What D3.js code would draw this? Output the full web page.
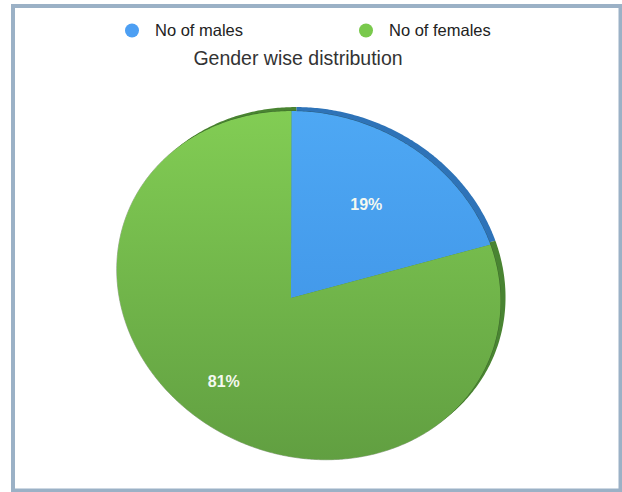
<!DOCTYPE html>
<html><head><meta charset="utf-8">
<script src="https://cdn.jsdelivr.net/npm/d3@7"></script>
<style>html,body{margin:0;padding:0;background:#fff;}svg{display:block;}</style>
</head><body>
<svg id="chart" width="622" height="492"></svg>
<script>
const categories = ["No of males", "No of females"];
const values = [19, 81];
const labels = ["19%", "81%"];
const title = "Gender wise distribution";

const topColors = [["#4ea8f4", "#3a8de2"], ["#82cd54", "#619f41"]];
const sideColors = ["#2d73b8", "#4a8430"];
const legendColors = ["#4d9ff3", "#79c94c"];

const svg = d3.select("#chart");
svg.append("rect").attr("x", 13).attr("y", 6).attr("width", 607.5).attr("height", 484.5)
  .attr("fill", "#fff").attr("stroke", "#9bb1c6").attr("stroke-width", 4);

// perspective projection of unit disk onto the page
const H = {a:163.0, b:23.42, c:291, d:-10.0, e:196.0, f:298, g:-0.0915, h:0.0815};
function project(u, v) {
  const w = H.g*u + H.h*v + 1;
  return [(H.a*u + H.b*v + H.c)/w, (H.d*u + H.e*v + H.f)/w];
}
const pie = d3.pie().sort(null).value(d => d)(values);

function slicePoints(p) {
  const pts = [project(0, 0)];
  const n = Math.max(4, Math.ceil((p.endAngle - p.startAngle) / 0.01));
  for (let i = 0; i <= n; i++) {
    const a = p.startAngle + (p.endAngle - p.startAngle) * i / n;
    pts.push(project(Math.sin(a), -Math.cos(a)));
  }
  return pts;
}
const line = d3.line().curve(d3.curveLinearClosed);

const defs = svg.append("defs");
topColors.forEach((c, i) => {
  const g = defs.append("linearGradient").attr("id", "g" + i)
    .attr("gradientUnits", "userSpaceOnUse").attr("x1", 0).attr("y1", 110).attr("x2", 0).attr("y2", 460);
  g.append("stop").attr("offset", 0).attr("stop-color", c[0]);
  g.append("stop").attr("offset", 1).attr("stop-color", c[1]);
});
const blur = defs.append("filter").attr("id", "soft").attr("x", "-10%").attr("y", "-10%").attr("width", "120%").attr("height", "120%");
blur.append("feGaussianBlur").attr("stdDeviation", 0.6);

// side (thickness) layer
const side = svg.append("g").attr("transform", "translate(5,-4)").attr("filter", "url(#soft)");
pie.forEach((p, i) => {
  side.append("path").attr("d", line(slicePoints(p))).attr("fill", sideColors[i]);
});
// bottom shadow
svg.append("path").attr("d", line(d3.range(0, 361, 1).map(a => project(Math.sin(a*Math.PI/180), -Math.cos(a*Math.PI/180)))))
  .attr("fill", "none").attr("stroke", "rgba(40,60,30,0.4)").attr("stroke-width", 1).attr("filter", "url(#soft)");
// top faces
pie.forEach((p, i) => {
  svg.append("path").attr("d", line(slicePoints(p))).attr("fill", "url(#g" + i + ")");
});
// labels
const labelR = [0.65, 0.68];
pie.forEach((p, i) => {
  const m = (p.startAngle + p.endAngle) / 2;
  const [x, y] = project(labelR[i]*Math.sin(m), -labelR[i]*Math.cos(m));
  svg.append("text").attr("x", x).attr("y", y).attr("dy", "0.35em")
    .attr("text-anchor", "middle").attr("fill", "#f4f8f0")
    .attr("font-family", "Liberation Sans, Arial, sans-serif").attr("font-weight", "bold").attr("font-size", 16)
    .text(labels[i]);
});

// legend
const legendX = [132, 366];
categories.forEach((c, i) => {
  svg.append("circle").attr("cx", legendX[i]).attr("cy", 30.5).attr("r", 7).attr("fill", legendColors[i]);
  svg.append("text").attr("x", legendX[i] + 23).attr("y", 36).attr("fill", "#222")
    .attr("font-family", "Liberation Sans, Arial, sans-serif").attr("font-size", 16.5).text(c);
});
svg.append("text").attr("x", 298).attr("y", 65).attr("text-anchor", "middle").attr("fill", "#333")
  .attr("font-family", "Liberation Sans, Arial, sans-serif").attr("font-size", 19.5).text(title);
</script>
</body></html>
